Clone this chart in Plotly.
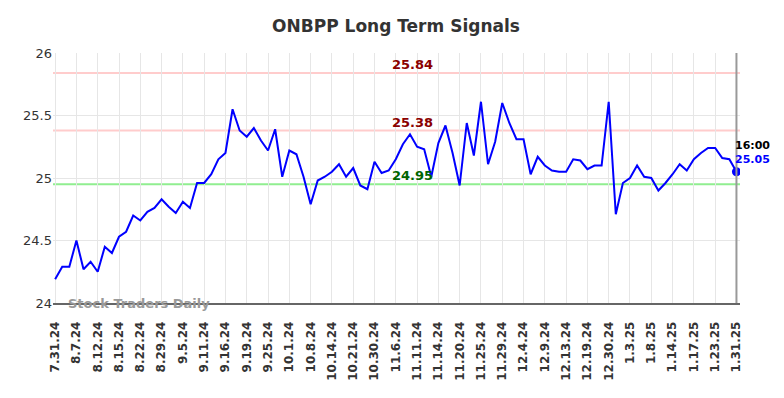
import plotly.graph_objects as go

values = [24.19, 24.29, 24.29, 24.50, 24.27, 24.33, 24.25, 24.45, 24.40, 24.53,
          24.57, 24.70, 24.66, 24.73, 24.76, 24.83, 24.77, 24.72, 24.81, 24.76,
          24.96, 24.96, 25.03, 25.15, 25.20, 25.55, 25.38, 25.33, 25.40, 25.30,
          25.22, 25.39, 25.01, 25.22, 25.19, 25.01, 24.79, 24.98, 25.01, 25.05,
          25.11, 25.01, 25.08, 24.94, 24.91, 25.13, 25.04, 25.06, 25.15, 25.27,
          25.35, 25.25, 25.23, 25.01, 25.28, 25.42, 25.20, 24.94, 25.44, 25.18,
          25.61, 25.11, 25.29, 25.60, 25.44, 25.31, 25.31, 25.03, 25.17, 25.10,
          25.06, 25.05, 25.05, 25.15, 25.14, 25.07, 25.10, 25.10, 25.61, 24.71,
          24.96, 25.00, 25.10, 25.01, 25.00, 24.90, 24.96, 25.03, 25.11, 25.06,
          25.15, 25.20, 25.24, 25.24, 25.16, 25.15, 25.05]

tick_labels = ["7.31.24", "8.7.24", "8.12.24", "8.15.24", "8.22.24", "8.29.24",
               "9.5.24", "9.11.24", "9.16.24", "9.19.24", "9.25.24", "10.1.24",
               "10.8.24", "10.14.24", "10.21.24", "10.30.24", "11.6.24", "11.11.24",
               "11.14.24", "11.20.24", "11.25.24", "11.29.24", "12.4.24", "12.9.24",
               "12.13.24", "12.19.24", "12.30.24", "1.3.25", "1.8.25", "1.14.25",
               "1.17.25", "1.23.25", "1.31.25"]
tick_step = 3

resistance_high = 25.84
resistance_low = 25.38
support = 24.95
last_time = "16:00"

x = list(range(len(values)))
tick_vals = [i * tick_step for i in range(len(tick_labels))]
last_i = x[-1]
last_v = values[-1]
mid_i = 50.3

font = "DejaVu Sans"

fig = go.Figure()
fig.add_trace(go.Scatter(x=x, y=values, mode="lines",
                         line=dict(color="#0000ff", width=2), hoverinfo="skip"))
fig.add_trace(go.Scatter(x=[last_i], y=[last_v], mode="markers",
                         marker=dict(color="#0000ff", size=9), hoverinfo="skip"))

for lvl, col in [(resistance_high, "#ffcccc"), (resistance_low, "#ffcccc"), (support, "#90ee90")]:
    fig.add_hline(y=lvl, line=dict(color=col, width=2), layer="below")

fig.add_vline(x=last_i, line=dict(color="#999999", width=2))

ann = []
ann.append(dict(x=mid_i, y=resistance_high, text=f"<b>{resistance_high:.2f}</b>", showarrow=False,
                yanchor="bottom", yshift=-1, font=dict(color="#8b0000", size=13, family=font)))
ann.append(dict(x=mid_i, y=resistance_low, text=f"<b>{resistance_low:.2f}</b>", showarrow=False,
                yanchor="bottom", yshift=-1, font=dict(color="#8b0000", size=13, family=font)))
ann.append(dict(x=mid_i, y=support, text=f"<b>{support:.2f}</b>", showarrow=False,
                yanchor="bottom", yshift=-1, font=dict(color="#006400", size=13, family=font)))
ann.append(dict(x=last_i, y=last_v, text=f"<b>{last_time}</b>", showarrow=False,
                xanchor="left", yanchor="bottom", xshift=-3, yshift=18,
                font=dict(color="#000000", size=11, family=font)))
ann.append(dict(x=last_i, y=last_v, text=f"<b>{last_v:.2f}</b>", showarrow=False,
                xanchor="left", yanchor="bottom", xshift=-3, yshift=4,
                font=dict(color="#0000ff", size=11, family=font)))
ann.append(dict(x=0.019, xref="paper", y=24, yref="y", text="<b>Stock Traders Daily</b>",
                showarrow=False, xanchor="left", yanchor="middle",
                font=dict(color="#999999", size=13, family=font)))

fig.update_layout(
    width=776, height=390,
    margin=dict(l=45, r=44, t=45, b=95),
    paper_bgcolor="white", plot_bgcolor="white",
    showlegend=False,
    title=dict(text="<b>ONBPP Long Term Signals</b>", x=0.5, xanchor="center", y=0.968,
               font=dict(size=17, color="#333333", family=font)),
    annotations=ann,
    xaxis=dict(range=[-0.3, 96.5], tickmode="array", tickvals=tick_vals,
               ticktext=[f"<b>{t}</b>" for t in tick_labels], tickangle=-90,
               tickfont=dict(size=12, color="#333333", family=font),
               ticklabelstandoff=12,
               showgrid=True, gridcolor="#e6e6e6", gridwidth=1,
               showline=True, linecolor="#666666", linewidth=1.5, zeroline=False,
               ticks="", fixedrange=True),
    yaxis=dict(range=[24, 26], tickvals=[24, 24.5, 25, 25.5, 26],
               ticktext=["24", "24.5", "25", "25.5", "26"],
               tickfont=dict(size=13, color="#333333", family=font),
               showgrid=True, gridcolor="#e6e6e6", gridwidth=1,
               zeroline=False, showline=False, ticks="", fixedrange=True),
)

fig.write_html("out.html")
